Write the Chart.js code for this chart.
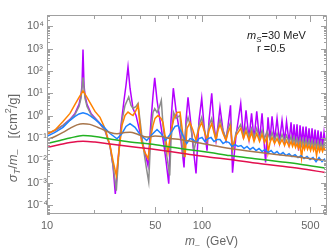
<!DOCTYPE html>
<html>
<head>
<meta charset="utf-8">
<script src="https://cdn.jsdelivr.net/npm/chart.js@4.4.1/dist/chart.umd.min.js"></script>
<style>
html, body { margin: 0; padding: 0; background: #fff; }
</style>
</head>
<body>
<canvas id="sigmaChart" width="333" height="251"></canvas>
<script>
// m_chi in GeV, sigma_T/m in cm^2/g
const massPurple = [10, 11.26, 12.68, 14.07, 15.16, 16.09, 16.57, 16.82, 17.07, 17.33,
  17.59, 18.12, 19.22, 21.65, 23.67, 25.5, 26.66, 27.58, 28.71, 30.02,
  31.39, 32.33, 33.31, 34.32, 35.88, 37.52, 39.81, 42.25, 44.84, 46.88,
  48.3, 49.53, 51.25, 53.58, 56.86, 58.57, 60.99, 63.1, 65.29, 67.96,
  73.19, 76.54, 78.84, 81.22, 84.92, 87.48, 91.48, 95.63, 99.56, 103,
  107.7, 111, 115.5, 119.5, 123.1, 126.8, 130.6, 136.6, 142.8, 147.2,
  152.7, 157.3, 165.7, 177.7, 185.2, 192.2, 201, 208.7, 216.5, 225.4,
  235, 243.9, 257, 266.6, 274.7, 282.9, 293.6, 304.7, 316.2, 328.2,
  340.7, 350.9, 364.2, 375.2, 383.7, 392.3, 401.1, 410.1, 419.3, 428.8,
  438.5, 448.4, 458.4, 468.8, 479.3, 490, 501.2, 512.5, 524.1, 535.8,
  547.9, 560.2, 572.9, 585.7, 598.9, 612.4, 621.7];
const sigmaPurple = [0.15, 0.22, 0.37, 0.68, 1.27, 3.2, 8.2, 23, 925, 23,
  8.2, 3.2, 1.27, 0.5, 0.22, 0.046, 0.0058, 0.00032, 0.0098, 0.37,
  4.9, 23, 153, 17, 2.1, 1.03, 0.18, 0.034, 0.0058, 0.62,
  8.2, 49, 4.9, 0.62, 0.046, 0.0098, 0.0009, 0.62, 17, 1.73,
  0.078, 0.0048, 0.62, 6.6, 0.37, 0.046, 0.0026, 0.62, 6.0, 0.37,
  0.0275, 0.62, 10, 0.37, 0.078, 0.37, 2.36, 0.22, 0.078, 0.37,
  2.9, 0.0028, 0.13, 3.57, 0.095, 1.73, 0.095, 1.27, 0.086, 1.56,
  0.078, 1.27, 0.008, 0.84, 0.078, 0.93, 0.078, 0.76, 0.07, 0.62,
  0.07, 0.555, 0.063, 0.5, 0.057, 0.41, 0.057, 0.41, 0.0275, 0.37,
  0.051, 0.33, 0.051, 0.33, 0.046, 0.27, 0.046, 0.27, 0.042, 0.24,
  0.042, 0.22, 0.038, 0.197, 0.038, 0.178, 0.078];

const massGray = [10, 11.26, 12.68, 14.07, 15.16, 16.09, 16.57, 17.07, 17.59, 18.12,
  19.22, 21.65, 23.67, 25.5, 26.66, 28.0, 29.14, 30.47, 31.86, 33.66,
  34.83, 35.88, 37.52, 38.66, 39.81, 41.63, 43.52, 45.3, 46.88, 48.3,
  49.53, 51.25, 52.8, 54.63, 56.02, 58.57, 61.9, 63.1, 65.48, 67.96,
  72.12, 75.41, 78.84, 81.22, 84.92, 88.79, 91.48, 95.63, 99.56, 103,
  107.7, 111, 115.5, 119.5, 123.1, 126.8, 130.6, 136.6, 142.8, 147.2,
  152.7, 157.3, 165.7, 177.7, 185.2, 192.2, 201, 208.7, 216.5, 225.4,
  235, 243.9, 253.1, 262.7, 274.7, 282.9, 293.6, 304.7, 316.2, 328.2,
  340.7, 350.9, 364.2, 375.2, 383.7, 392.3, 401.1, 410.1, 419.3, 428.8,
  438.5, 448.4, 458.4, 468.8, 479.3, 490, 501.2, 512.5, 524.1, 535.8,
  547.9, 560.2, 572.9, 585.7, 598.9, 612.4, 621.7];
const sigmaGray = [0.15, 0.22, 0.37, 0.65, 1.14, 2.6, 6.0, 51, 6.0, 2.6,
  1.14, 0.5, 0.22, 0.042, 0.0058, 0.00044, 0.0275, 0.62, 2.9, 6.9,
  2.9, 2.1, 2.6, 3.57, 0.62, 0.046, 0.0058, 0.0011, 0.22, 1.4,
  2.06, 1.4, 2.13, 4.87, 0.37, 0.0275, 0.0021, 0.078, 1.4, 0.76,
  1.03, 0.0138, 0.37, 0.84, 0.27, 0.0275, 0.078, 0.37, 0.84, 0.27,
  0.078, 0.37, 0.76, 0.22, 0.095, 0.27, 0.68, 0.22, 0.095, 0.27,
  0.5, 0.0275, 0.178, 0.41, 0.13, 0.3, 0.117, 0.27, 0.106, 0.27,
  0.095, 0.22, 0.095, 0.2, 0.086, 0.178, 0.078, 0.16, 0.07, 0.145,
  0.07, 0.13, 0.063, 0.117, 0.057, 0.106, 0.057, 0.095, 0.051, 0.095,
  0.046, 0.086, 0.046, 0.086, 0.042, 0.078, 0.042, 0.078, 0.038, 0.07,
  0.038, 0.07, 0.034, 0.063, 0.034, 0.063, 0.042];

const massOrange = [10, 11.26, 12.68, 14.07, 15.16, 16.09, 17.07, 18.12, 19.22, 20.4,
  21.98, 23.67, 25.5, 26.66, 28.0, 29.14, 30.47, 31.86, 33.31, 34.83,
  35.88, 37.52, 38.66, 39.81, 40.59, 42.25, 44.84, 46.88, 48.3, 49.76,
  52.02, 54.39, 56.02, 57.71, 60.35, 63.1, 65.97, 68.98, 72.12, 75.41,
  77.67, 80.01, 83.66, 87.48, 91.48, 95.63, 99.56, 103, 107.7, 111,
  115.5, 119.5, 123.1, 126.8, 130.6, 136.6, 142.8, 147.2, 152.7, 157.3,
  165.7, 177.7, 185.2, 192.2, 201, 208.7, 216.5, 225.4, 235, 243.9,
  253.1, 262.7, 266.6, 274.7, 282.9, 293.6, 304.7, 316.2, 328.2, 340.7,
  350.9, 364.2, 375.2, 383.7, 392.3, 401.1, 410.1, 419.3, 428.8, 438.5,
  448.4, 458.4, 468.8, 479.3, 490, 501.2, 512.5, 524.1, 535.8, 547.9,
  560.2, 572.9, 585.7, 598.9, 612.4, 621.7];
const sigmaOrange = [0.15, 0.23, 0.55, 1.27, 3.2, 6.6, 12.8, 6.6, 3.2, 1.56,
  0.84, 0.27, 0.046, 0.0098, 0.0021, 0.0275, 0.37, 1.03, 1.45, 1.14,
  1.03, 1.73, 2.9, 0.37, 0.078, 0.0275, 0.012, 0.13, 0.37, 0.76,
  1.03, 0.76, 0.5, 0.13, 0.0224, 0.22, 0.76, 1.4, 1.45, 0.13,
  0.0138, 0.27, 0.5, 0.22, 0.078, 0.27, 0.5, 0.22, 0.078, 0.22,
  0.45, 0.178, 0.078, 0.22, 0.41, 0.16, 0.078, 0.178, 0.33, 0.034,
  0.13, 0.27, 0.095, 0.2, 0.078, 0.178, 0.07, 0.16, 0.07, 0.145,
  0.063, 0.117, 0.0224, 0.063, 0.106, 0.057, 0.095, 0.051, 0.086, 0.046,
  0.078, 0.042, 0.07, 0.042, 0.063, 0.038, 0.057, 0.034, 0.057, 0.013,
  0.051, 0.031, 0.051, 0.031, 0.046, 0.0275, 0.046, 0.0275, 0.042, 0.0164,
  0.042, 0.025, 0.038, 0.025, 0.038, 0.0275];

const massBlue = [10, 11.26, 12.68, 14.07, 15.16, 16.09, 17.07, 18.12, 19.22, 20.4,
  21.98, 23.67, 25.5, 28.29, 30.47, 32.33, 34.32, 36.97, 39.81, 43.98,
  46.88, 51.25, 54.39, 58.14, 62.17, 66.96, 70, 74.3, 79.66, 83.66,
  87.48, 91.48, 95.63, 100, 104.5, 109.3, 114.3, 119.5, 125, 130.6,
  136.6, 142.8, 149.4, 156.1, 163.3, 170.7, 178.5, 186.6, 195.1, 204.1,
  213.3, 223.1, 233.2, 243.9, 255, 266.6, 278.8, 291.4, 304.7, 318.6,
  333.1, 348.3, 364.2, 380.8, 398.1, 416.3, 435.2, 455.1, 475.8, 497.6,
  520.2, 543.9, 568.6, 594.5, 621.7];
const sigmaBlue = [0.12, 0.178, 0.3, 0.62, 0.93, 1.2, 1.34, 1.2, 0.93, 0.68,
  0.44, 0.27, 0.16, 0.092, 0.16, 0.33, 0.44, 0.3, 0.145, 0.078,
  0.13, 0.24, 0.16, 0.078, 0.145, 0.33, 0.37, 0.16, 0.057, 0.095,
  0.086, 0.063, 0.095, 0.106, 0.07, 0.095, 0.106, 0.07, 0.086, 0.086,
  0.057, 0.07, 0.063, 0.042, 0.051, 0.042, 0.046, 0.034, 0.042, 0.031,
  0.038, 0.0275, 0.034, 0.025, 0.031, 0.0224, 0.0275, 0.02, 0.025, 0.018,
  0.0224, 0.0164, 0.02, 0.015, 0.018, 0.0134, 0.0164, 0.012, 0.015, 0.011,
  0.0134, 0.0088, 0.0134, 0.0088, 0.012];

const massBrown = [10, 11.26, 12.68, 14.07, 15.61, 17.07, 18.94, 21.98, 25.5, 28.29,
  31.86, 34.32, 38.66, 44.2, 49.76, 55.2, 62.17, 72.12, 97.07, 151.6,
  236.7, 369.7, 621.7];
const sigmaBrown = [0.086, 0.117, 0.178, 0.27, 0.39, 0.44, 0.41, 0.27, 0.178, 0.155,
  0.178, 0.183, 0.145, 0.11, 0.123, 0.117, 0.095, 0.086, 0.06, 0.034,
  0.0224, 0.0156, 0.0098];

const massSmooth = [10, 12.13, 14.07, 17.07, 20.4, 25.5, 34.32, 46.2, 62.17, 80.01,
  112.6, 151.6, 219.8, 318.6, 428.8, 621.7];
const sigmaGreen = [0.057, 0.078, 0.1, 0.13, 0.117, 0.09, 0.066, 0.054, 0.04, 0.031,
  0.0224, 0.0164, 0.012, 0.0088, 0.0068, 0.0046];
const sigmaRed = [0.038, 0.051, 0.063, 0.072, 0.066, 0.054, 0.042, 0.033, 0.025, 0.0195,
  0.014, 0.011, 0.0076, 0.0056, 0.0043, 0.0029];

// axis ticks
const xTickLabels = [10, 50, 100, 500];
const xMinorTicks = [20, 30, 40, 60, 70, 80, 90, 200, 300, 400, 600];
const yDecades = [-4, -3, -2, -1, 0, 1, 2, 3, 4];

const supDigits = { '-': '\u207B', '0': '\u2070', '1': '\u00B9', '2': '\u00B2', '3': '\u00B3',
  '4': '\u2074', '5': '\u2075', '6': '\u2076', '7': '\u2077', '8': '\u2078', '9': '\u2079' };
function powLabel(e) {
    return '10' + String(e).split('').map(c => supDigits[c]).join('');
}

function pairs(xs, ys) {
    return xs.map((m, i) => ({ x: m, y: ys[i] }));
}

const FONT = "'Liberation Sans', Arial, sans-serif";

function fontOf(p) {
    return (p.it ? 'italic ' : '') + p.size + 'px ' + FONT;
}

// draws a run of text pieces (italics, sub/superscripts) left to right
function drawRich(ctx, parts, x, y, rotate, center) {
    ctx.save();
    ctx.translate(x, y);
    if (rotate) ctx.rotate(-Math.PI / 2);
    let total = 0;
    parts.forEach(p => {
        ctx.font = fontOf(p);
        p.w = ctx.measureText(p.t).width;
        total += p.w;
    });
    let cx = center ? -total / 2 : 0;
    ctx.textBaseline = 'alphabetic';
    ctx.textAlign = 'left';
    parts.forEach(p => {
        ctx.font = fontOf(p);
        ctx.fillText(p.t, cx, p.dy || 0);
        cx += p.w;
    });
    ctx.restore();
}

const frameAndText = {
    id: 'frameAndText',
    afterDatasetsDraw(chart) {
        const { ctx, chartArea: a, scales: { x, y } } = chart;
        ctx.save();
        ctx.strokeStyle = '#a0a0a0';
        ctx.lineWidth = 1;
        ctx.beginPath();
        ctx.rect(a.left + 0.5, a.top + 0.5, a.right - a.left - 1, a.bottom - a.top - 1);

        // x ticks, bottom and top, pointing inward
        const xt = xTickLabels.map(v => [v, 7]).concat(xMinorTicks.map(v => [v, 4]));
        xt.forEach(([v, len]) => {
            const px = Math.round(x.getPixelForValue(v)) + 0.5;
            ctx.moveTo(px, a.bottom);
            ctx.lineTo(px, a.bottom - len);
            ctx.moveTo(px, a.top);
            ctx.lineTo(px, a.top + len);
        });

        // y ticks, left and right
        const yt = [];
        for (let e = -5; e <= 4; e++) {
            yt.push([Math.pow(10, e), 6]);
            for (let k = 2; k <= 9; k++) yt.push([k * Math.pow(10, e), 3]);
        }
        yt.forEach(([v, len]) => {
            if (v < y.min || v > y.max) return;
            const py = Math.round(y.getPixelForValue(v)) + 0.5;
            ctx.moveTo(a.left, py);
            ctx.lineTo(a.left + len, py);
            ctx.moveTo(a.right, py);
            ctx.lineTo(a.right - len, py);
        });
        ctx.stroke();

        // axis titles
        ctx.fillStyle = '#666';
        drawRich(ctx, [
            { t: 'm', it: true, size: 12 },
            { t: '_', size: 8, dy: -1 },
            { t: '  (GeV)', size: 12 }
        ], 185, 245, false, false);

        drawRich(ctx, [
            { t: '\u03C3', it: true, size: 13 },
            { t: 'T', it: true, size: 9, dy: 3 },
            { t: '/', size: 13 },
            { t: 'm', it: true, size: 13 },
            { t: '_', size: 9, dy: -1 },
            { t: '   [(cm', size: 13 },
            { t: '2', size: 9, dy: -6 },
            { t: '/g]', size: 13 }
        ], 17, 138, true, true);

        // annotation
        ctx.fillStyle = '#222';
        drawRich(ctx, [
            { t: 'm', it: true, size: 11 },
            { t: 'S', it: true, size: 8, dy: 3 },
            { t: '=30 MeV', size: 11 }
        ], 247, 39, false, false);
        drawRich(ctx, [{ t: 'r =0.5', size: 11 }], 257, 52, false, false);
        ctx.restore();
    }
};

const smoothLine = { cubicInterpolationMode: 'monotone' };

new Chart(document.getElementById('sigmaChart'), {
    type: 'line',
    data: {
        datasets: [
            Object.assign({ label: 'red', data: pairs(massSmooth, sigmaRed), borderColor: '#e2104e' }, smoothLine),
            Object.assign({ label: 'green', data: pairs(massSmooth, sigmaGreen), borderColor: '#22b222' }, smoothLine),
            Object.assign({ label: 'brown', data: pairs(massBrown, sigmaBrown), borderColor: '#a8764c' }, smoothLine),
            { label: 'blue', data: pairs(massBlue, sigmaBlue), borderColor: '#1e82ff' },
            { label: 'orange', data: pairs(massOrange, sigmaOrange), borderColor: '#ff8200' },
            { label: 'gray', data: pairs(massGray, sigmaGray), borderColor: '#8c8c8c' },
            { label: 'purple', data: pairs(massPurple, sigmaPurple), borderColor: '#b400ff' }
        ]
    },
    options: {
        responsive: false,
        animation: false,
        devicePixelRatio: 1,
        layout: { padding: { top: 15, right: 6, left: 27, bottom: 0 } },
        plugins: {
            legend: { display: false },
            tooltip: { enabled: false }
        },
        elements: {
            point: { radius: 0 },
            line: { borderWidth: 1.5, tension: 0, fill: false }
        },
        scales: {
            x: {
                type: 'logarithmic',
                min: 10,
                max: 640,
                grid: { display: false, drawTicks: false },
                border: { display: false },
                afterBuildTicks: s => { s.ticks = xTickLabels.map(v => ({ value: v })); },
                afterFit: s => { s.height = 37; },
                ticks: {
                    autoSkip: false,
                    maxRotation: 0,
                    padding: 5,
                    color: '#666',
                    font: { family: FONT, size: 11 },
                    callback: v => String(v)
                }
            },
            y: {
                type: 'logarithmic',
                min: 4e-5,
                max: 3.2e4,
                grid: { display: false, drawTicks: false },
                border: { display: false },
                afterBuildTicks: s => { s.ticks = yDecades.map(e => ({ value: Math.pow(10, e) })); },
                afterFit: s => { s.width = 20; },
                ticks: {
                    autoSkip: false,
                    crossAlign: 'far',
                    padding: 3,
                    color: '#666',
                    font: { family: FONT, size: 11 },
                    callback: v => powLabel(Math.round(Math.log10(v)))
                }
            }
        }
    },
    plugins: [frameAndText]
});
</script>
</body>
</html>
